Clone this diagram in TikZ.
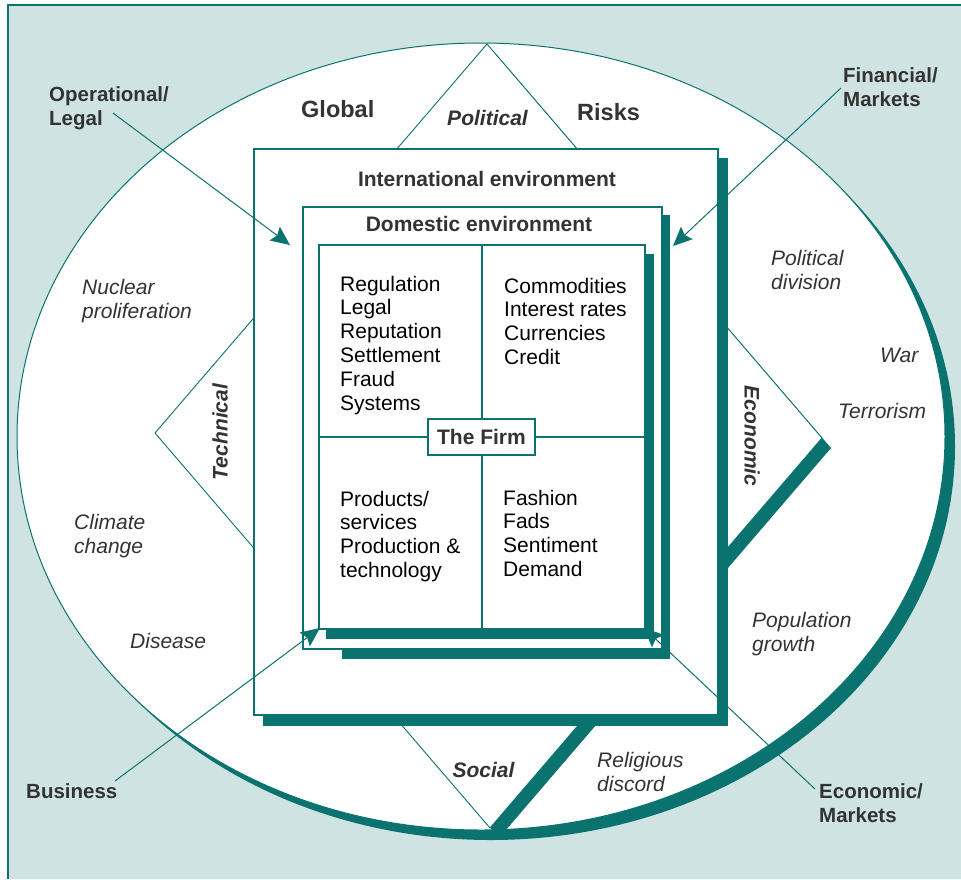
\documentclass[tikz,border=0pt]{standalone}
\usepackage{fontspec}
\setmainfont{Liberation Sans}
\usetikzlibrary{arrows.meta}
\definecolor{riskteal}{RGB}{10,115,112}
\definecolor{riskbg}{RGB}{208,227,227}
\definecolor{riskgray}{RGB}{51,51,51}
\tikzstyle{panel} = [draw=riskteal, fill=white, line width=1.2pt]
\tikzstyle{envbox} = [panel, rectangle, inner sep=0pt]
\tikzstyle{wedge} = [draw=riskteal, fill=white, line width=0.9pt]
\tikzstyle{heading} = [font=\fontsize{21}{24}\selectfont\bfseries, text=riskgray, inner sep=0pt, anchor=base]
\tikzstyle{sector} = [font=\fontsize{21}{24}\selectfont\bfseries\itshape, text=riskgray, inner sep=0pt]
\tikzstyle{factor} = [font=\fontsize{21}{23.8}\selectfont, align=left, inner sep=0pt, anchor=base west]
\tikzstyle{driver} = [factor, font=\fontsize{21}{24}\selectfont\itshape, text=riskgray]
\tikzstyle{category} = [factor, font=\fontsize{20.5}{24}\selectfont\bfseries, text=riskgray]
\tikzstyle{arrow} = [riskteal, line width=1pt, -{Stealth[length=19pt,width=17pt,inset=3pt]}]

\begin{document}
\begin{tikzpicture}[x=1pt,y=-1pt]
\useasboundingbox (0,0) rectangle (961,879);
% background
\fill[riskbg] (8,5) rectangle (961,879);
\draw[riskteal, line width=1.2pt] (8,879) -- (8,5) -- (961,5);
% global risks ellipse
\fill[riskteal] (491,446.5) ellipse [x radius=464, y radius=393.5];
\draw[panel, line width=1pt] (481,436.5) ellipse [x radius=464, y radius=393.5];
% political, technical, economic, social
\foreach \cx/\cy in {487/242, 325/433, 652/438, 490/630}
  \fill[riskteal, shift={(9,10)}] (\cx,\cy-198) -- (\cx+170,\cy) -- (\cx,\cy+198) -- (\cx-170,\cy) -- cycle;
\foreach \cx/\cy in {487/242, 325/433, 652/438, 490/630}
  \draw[wedge] (\cx,\cy-198) -- (\cx+170,\cy) -- (\cx,\cy+198) -- (\cx-170,\cy) -- cycle;
% international environment
\fill[riskteal] (263,158) rectangle (728,726);
\node (intl) [envbox, minimum width=464, minimum height=566] at (486,432) {};
\node (intlhead) [heading] at (487,186) {International environment};
% domestic environment
\fill[riskteal] (342,215) rectangle (670,659);
\node (dom) [envbox, minimum width=359, minimum height=442] at (482.5,428) {};
\node (domhead) [heading] at (479,231) {Domestic environment};
% economic/markets arrow goes under the firm
\coordinate (ecostart) at (815,789);
\coordinate (ecotip) at (644,628);
\draw[arrow] (ecostart) -- (ecotip);
% the firm
\fill[riskteal] (326,254) rectangle (654,639);
\node (firmbox) [envbox, minimum width=326, minimum height=384] at (482,437) {};
\draw[riskteal, line width=1.2pt] (firmbox.north) -- (firmbox.south);
\draw[riskteal, line width=1.2pt] (firmbox.west) -- (firmbox.east);
\node (firm) [envbox, heading, anchor=center, minimum width=107, minimum height=36] at (481.5,437) {The Firm};
% base anchor sits on the last line
\node (opfactors) [factor] at (340,410) {Regulation\\Legal\\Reputation\\Settlement\\Fraud\\Systems};
\node (finfactors) [factor] at (504,364.4) {Commodities\\Interest rates\\Currencies\\Credit};
\node (busfactors) [factor] at (340,577.4) {Products/\\services\\Production \&\\technology};
\node (mktfactors) [factor] at (503,576.4) {Fashion\\Fads\\Sentiment\\Demand};
% sector labels
\node (global) [heading, anchor=base west, font=\fontsize{23.5}{26}\selectfont\bfseries] at (301,117) {Global};
\node (risks) [heading, anchor=base west, font=\fontsize{23.5}{26}\selectfont\bfseries] at (577,120) {Risks};
\node (political) [sector, anchor=base] at (487.5,125) {Political};
\node (technical) [sector, rotate=90] at (220,432) {Technical};
\node (economic) [sector, rotate=-90] at (752,436) {Economic};
\node (social) [sector, anchor=base] at (483.5,777) {Social};
% drivers
\node (nuclear) [driver] at (82,318) {Nuclear\\proliferation};
\node (climate) [driver] at (74,553) {Climate\\change};
\node (disease) [driver] at (130,648) {Disease};
\node (division) [driver] at (771,289) {Political\\division};
\node (war) [driver] at (880,362) {War};
\node (terror) [driver] at (838,418) {Terrorism};
\node (population) [driver] at (752,651) {Population\\growth};
\node (religion) [driver] at (597,791) {Religious\\discord};
% risk categories
\node (oplegal) [category] at (49,125) {Operational/\\Legal};
\node (finmkt) [category] at (843,106) {Financial/\\Markets};
\node (business) [category] at (26,798) {Business};
\node (ecomkt) [category] at (819,822) {Economic/\\Markets};
\coordinate (opstart) at (113,113);
\coordinate (optip) at (290,245);
\draw[arrow] (opstart) -- (optip);
\coordinate (finstart) at (841,88);
\coordinate (fintip) at (673,246);
\draw[arrow] (finstart) -- (fintip);
\coordinate (busstart) at (115,781);
\coordinate (bustip) at (320,628);
\draw[arrow] (busstart) -- (bustip);
\end{tikzpicture}
\end{document}
